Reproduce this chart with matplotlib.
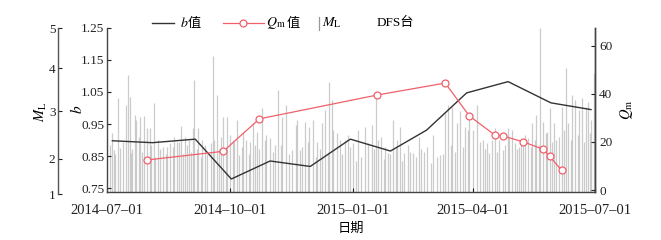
import datetime as dt
import numpy as np
import matplotlib
matplotlib.use("Agg")
import matplotlib.pyplot as plt
from matplotlib.lines import Line2D

plt.rcParams['font.family'] = ['Liberation Serif', 'Noto Sans CJK SC']
plt.rcParams['mathtext.fontset'] = 'stix'

START = dt.datetime(2014, 7, 1)

# --- data (days counted from 2014-07-01) ---
b_day = [4, 34, 66, 93, 122, 152, 182, 212, 239, 269, 300, 332, 362]
b_val = [0.898, 0.892, 0.903, 0.779, 0.835, 0.818, 0.903, 0.866, 0.931,
         1.047, 1.082, 1.016, 0.995]

q_day = [30, 87, 114, 202, 253, 271, 290, 296, 311, 326, 331, 340]
q_val = [12.5, 16.1, 29.6, 39.5, 44.5, 30.8, 22.9, 22.5, 20.1, 17.0, 14.1, 8.2]

ml_day = [4, 5, 8, 10, 14, 16, 17, 18, 21, 22, 25, 28, 30, 32, 35, 38, 42, 45,
          47, 50, 52, 55, 58, 61, 64, 65, 68, 71, 78, 79, 82, 85, 87, 90, 92,
          94, 97, 99, 102, 104, 107, 109, 112, 116, 119, 122, 126, 128, 131,
          134, 138, 141, 142, 144, 148, 151, 154, 157, 161, 163, 166, 168, 169,
          172, 174, 178, 180, 184, 188, 193, 195, 198, 201, 203, 205, 208, 210,
          214, 217, 219, 222, 225, 229, 233, 237, 239, 244, 247, 249, 253, 255,
          258, 262, 264, 268, 270, 271, 274, 277, 281, 284, 286, 290, 293, 296,
          300, 303, 305, 308, 311, 315, 318, 321, 324, 326, 329, 331, 334, 336,
          340, 343, 345, 348, 350, 353, 355, 358, 360, 364, 362,
          # smaller events filling the gaps
          2, 6, 12, 19, 24, 26, 33, 36, 40, 44, 49, 54, 57, 60, 63, 67, 70,
          73, 75, 80, 84, 89, 95, 101, 106, 111, 114, 118, 124, 130, 136, 146,
          150, 156, 159, 165, 176, 182, 186, 190, 200, 207, 212, 216, 221, 227,
          231, 235, 242, 251, 257, 260, 266, 279, 283, 288, 292, 298, 301, 307,
          310, 313, 317, 320, 323, 328, 333, 338, 342, 347, 352, 357, 361]
ml_mag = [2.54, 2.19, 3.30, 2.22, 3.14, 3.84, 3.33, 2.12, 2.92, 2.81, 2.88,
          2.90, 2.64, 2.64, 3.19, 2.40, 2.26, 2.26, 2.33, 2.46, 2.36, 2.69,
          2.46, 2.40, 2.64, 3.73, 2.64, 2.40, 2.33, 4.31, 3.37, 2.46, 2.88,
          2.88, 2.50, 2.40, 2.81, 2.08, 2.57, 2.40, 2.36, 2.74, 2.57, 3.06,
          2.50, 2.43, 2.29, 3.49, 2.88, 3.14, 2.19, 2.71, 2.81, 2.19, 2.78,
          2.67, 2.81, 2.36, 2.74, 3.02, 3.69, 3.26, 2.60, 2.54, 2.40, 2.40,
          2.50, 2.33, 2.60, 2.67, 2.33, 2.71, 3.37, 2.40, 2.46, 2.26, 2.12,
          2.81, 2.40, 2.67, 2.12, 2.29, 2.12, 2.46, 2.15, 2.26, 2.50, 2.05,
          2.08, 2.95, 3.14, 3.10, 2.74, 2.99, 2.67, 2.60, 2.88, 2.60, 3.14,
          2.40, 2.33, 2.12, 2.64, 2.40, 2.19, 2.64, 2.60, 2.33, 2.26, 2.40,
          2.43, 2.74, 2.92, 5.00, 2.78, 2.57, 3.06, 2.74, 2.40, 3.10, 4.00,
          2.74, 3.37, 3.26, 3.02, 3.30, 3.10, 3.22, 3.88, 2.81,
          2.30, 2.10, 2.35, 2.20, 2.45, 2.15, 2.30, 2.05, 2.20, 2.10, 2.25,
          2.35, 2.10, 2.30, 2.15, 2.20, 2.05, 2.30, 2.10, 2.40, 2.20, 2.15,
          2.35, 2.25, 2.10, 2.30, 2.20, 2.40, 2.15, 2.30, 2.10, 2.25, 2.35,
          2.05, 2.20, 2.15, 2.10, 2.25, 1.95, 2.05, 2.20, 2.00, 2.10, 2.25,
          1.95, 2.15, 2.05, 2.20, 1.90, 2.10, 2.30, 2.15, 2.25, 2.35, 2.20,
          2.40, 2.15, 2.30, 2.45, 2.20, 2.35, 2.50, 2.25, 2.40, 2.30, 2.55,
          2.35, 2.45, 2.60, 2.40, 2.50, 2.35, 2.55]

date_ticks = ['2014-07-01', '2014-10-01', '2015-01-01', '2015-04-01', '2015-07-01']
b_ticks = [0.75, 0.85, 0.95, 1.05, 1.15, 1.25]
q_ticks = [0, 20, 40, 60]
ml_ticks = [1, 2, 3, 4, 5]


def to_dates(days):
    return [START + dt.timedelta(days=int(d)) for d in days]


W, H = 661, 240
fig = plt.figure(figsize=(W / 100, H / 100), dpi=100)

# M_L axis: its own axes, spine moved out to the left
ax_ml = fig.add_axes([107 / W, 1 - 194.3 / H, 488 / W, 166 / H])
ml_pos = [0, 0.2127, 0.5018, 0.759, 1.0]   # where the ticks sit on the spine


def ml_fwd(v):
    return np.interp(v, ml_ticks, ml_pos)


def ml_inv(v):
    return np.interp(v, ml_pos, ml_ticks)


ax_ml.set_yscale('function', functions=(ml_fwd, ml_inv))
ax_ml.set_ylim(1, 5)
ax_ml.set_facecolor('none')
for s in ['top', 'right', 'bottom']:
    ax_ml.spines[s].set_visible(False)
ax_ml.spines['left'].set_position(('axes', -(107 - 58.3) / 488))
ax_ml.spines['left'].set_color('#555555')
ax_ml.spines['left'].set_linewidth(1.0)
ax_ml.set_yticks(ml_ticks)
ax_ml.set_yticklabels([str(t) for t in ml_ticks])
ax_ml.tick_params(axis='y', direction='in', length=3, width=0.8,
                  labelsize=9.5, pad=2, colors='#222222')
ax_ml.tick_params(axis='x', bottom=False, labelbottom=False)
ax_ml.set_ylabel(r'$M_\mathrm{L}$', fontsize=10.5, labelpad=0)

# main axes (b) on top
ax = fig.add_axes([107 / W, 1 - 192 / H, 488 / W, 164.5 / H])
ax.set_facecolor('none')
ax2 = ax.twinx()

ml_dates = to_dates(ml_day)
bars = ax_ml.vlines(ml_dates, 1, ml_mag, colors='#bfbfbf', linewidth=0.9, alpha=0.8)
bars.set_clip_path(ax.patch)

ax.plot(to_dates(b_day), b_val, color='#333333', lw=1.0)
ax2.plot(to_dates(q_day), q_val, color='#f0606a', lw=0.9, marker='o', ms=5,
         mfc='white', mec='#f0606a', mew=0.9)

xlim = (START, START + dt.timedelta(days=365))
for a in (ax_ml, ax, ax2):
    a.set_xlim(xlim)

ax.set_ylim(0.7385, 1.2505)
ax.set_yticks(b_ticks)
ax.set_yticklabels([f'{t:.2f}' for t in b_ticks])
ax2.set_ylim(-0.83, 67.6)
ax2.set_yticks(q_ticks)

ax.set_xticks([dt.datetime.strptime(d, '%Y-%m-%d') for d in date_ticks])
ax.set_xticklabels([d.replace('-', '–') for d in date_ticks])

for a in (ax, ax2):
    a.spines['top'].set_visible(False)
    for s in a.spines.values():
        s.set_color('#444444')
        s.set_linewidth(1.0)
ax2.spines['left'].set_visible(False)
ax2.spines['bottom'].set_visible(False)

ax.tick_params(axis='y', direction='in', length=3, width=0.8, labelsize=9.5,
               pad=2, colors='#222222')
ax.tick_params(axis='x', direction='in', length=3, width=0.8, labelsize=10.5,
               pad=9, colors='#222222')
ax2.tick_params(axis='y', direction='in', length=3, width=0.8, labelsize=9.5,
                pad=3, colors='#222222')

ax.set_ylabel(r'$b$', fontsize=11, labelpad=-3)
ax2.set_ylabel(r'$Q_\mathrm{m}$', fontsize=10.5, labelpad=4)
ax.set_xlabel('日期', fontsize=9.5, labelpad=4)


# --- legend drawn in figure pixels ---
def px(x, y):
    return x / W, 1 - y / H


ly = 23
fig.add_artist(Line2D(*zip(px(152, ly), px(174, ly)), color='#333333', lw=1.0,
                      transform=fig.transFigure))
fig.text(*px(180, ly), '$b$', fontsize=10, va='center', ha='left')
fig.text(*px(188, ly), '值', fontsize=9.5, va='center', ha='left',
         family='Noto Sans CJK SC')
fig.add_artist(Line2D(*zip(px(223, ly), px(264, ly)), color='#f0606a', lw=0.9,
                      transform=fig.transFigure))
fig.add_artist(Line2D([px(243, ly)[0]], [px(243, ly)[1]], marker='o', ms=5,
                      mfc='white', mec='#f0606a', mew=0.9,
                      transform=fig.transFigure))
fig.text(*px(266, ly), r'$Q_\mathrm{m}$', fontsize=10, va='center', ha='left')
fig.text(*px(286.5, ly), '值', fontsize=9.5, va='center', ha='left',
         family='Noto Sans CJK SC')
fig.add_artist(Line2D(*zip(px(318.5, 16.5), px(318.5, 29.5)), color='#999999',
                      lw=0.9, transform=fig.transFigure))
fig.text(*px(322.5, ly), r'$M_\mathrm{L}$', fontsize=10, va='center', ha='left')
fig.text(*px(377, ly), 'DFS台', fontsize=9.5, va='center', ha='left')

fig.savefig('out.png', dpi=100)
